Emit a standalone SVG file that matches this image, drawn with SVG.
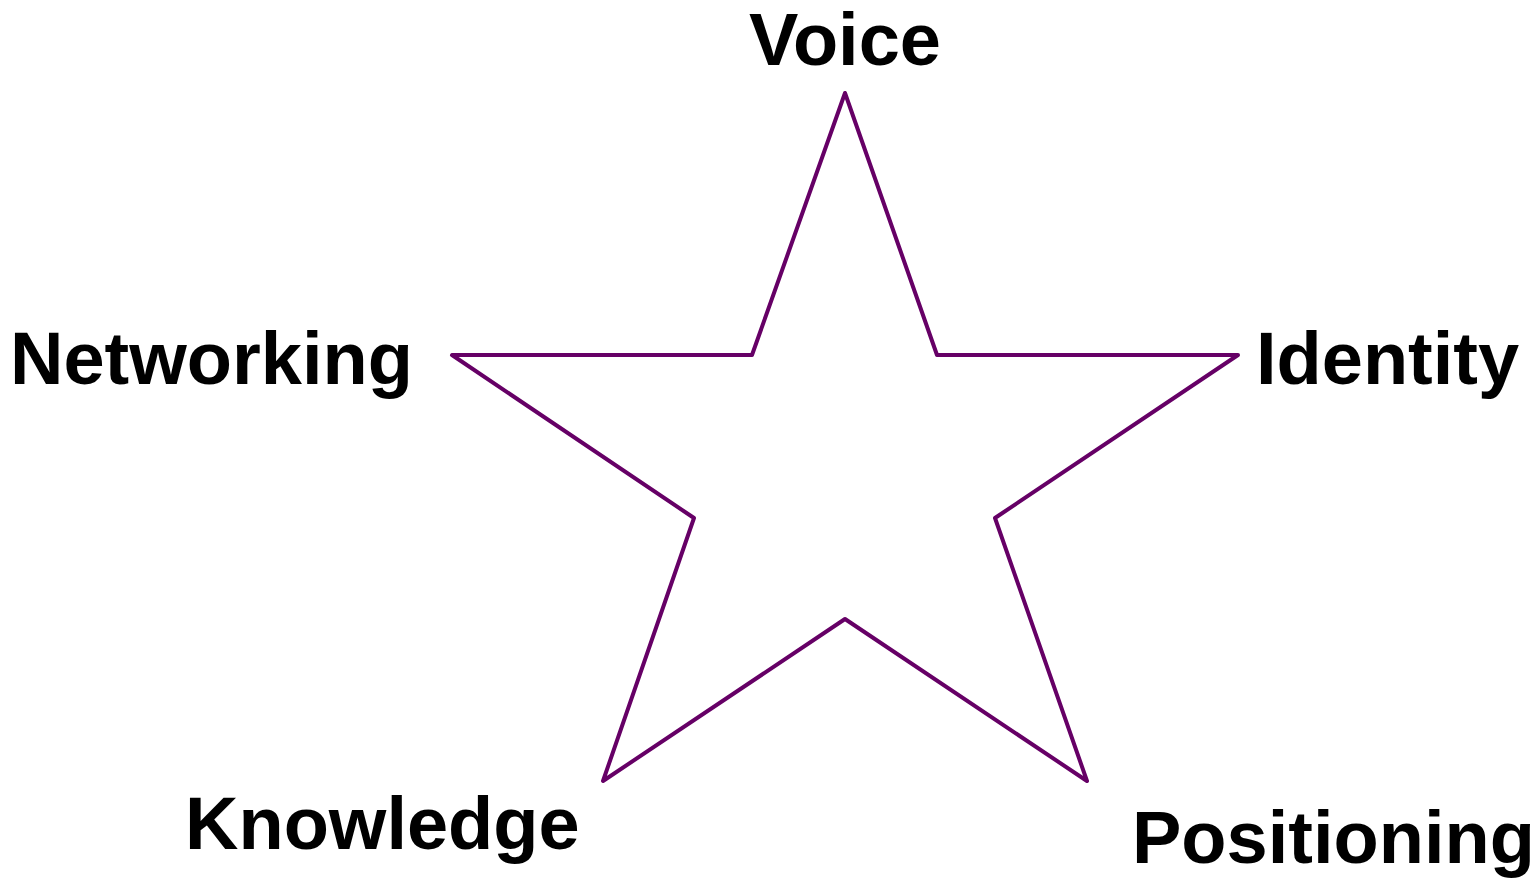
<svg xmlns="http://www.w3.org/2000/svg" width="1537" height="880" viewBox="0 0 1537 880">
<style>
.lbl{font-family:"Liberation Sans",Arial,sans-serif;font-weight:bold;font-size:74px;fill:#000}
.star{fill:none;stroke:#660066;stroke-width:4;stroke-linejoin:round}
</style>
<rect width="1537" height="880" fill="#fff"/>
<g id="star">
<polygon class="star" points="845,93 937,355 1238,355 995,518 1087,781 845,619 603,781 694,518 452,355 752,355"/>
</g>
<g id="voice"><text class="lbl" x="845" y="65" text-anchor="middle">Voice</text></g>
<g id="networking"><text class="lbl" x="10" y="384">Networking</text></g>
<g id="identity"><text class="lbl" x="1256" y="384">Identity</text></g>
<g id="knowledge"><text class="lbl" x="185" y="849">Knowledge</text></g>
<g id="positioning"><text class="lbl" x="1132" y="863">Positioning</text></g>
</svg>
